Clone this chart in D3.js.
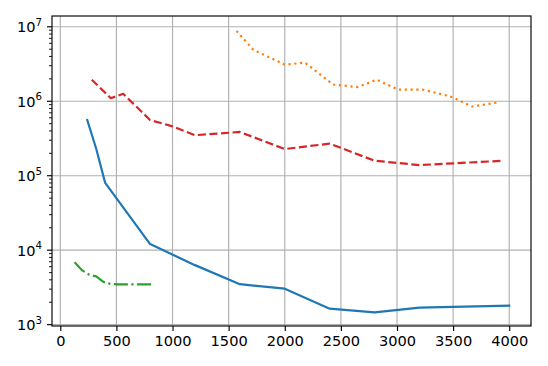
<!DOCTYPE html>
<html>
<head>
<meta charset="utf-8">
<script src="https://cdn.jsdelivr.net/npm/d3@7"></script>
<style>
  body { margin: 0; background: #fff; }
  svg { display: block; font-family: "DejaVu Sans", sans-serif; }
</style>
</head>
<body>
<svg id="chart" width="548" height="366"></svg>
<script>
'use strict';

// series
var blueX = [240, 320, 400, 800, 1200, 1600, 2000, 2400, 2800, 3200, 4000];
var blueY = [5.6e5, 2.3e5, 8.0e4, 1.21e4, 6.3e3, 3.5e3, 3.04e3, 1.64e3, 1.46e3, 1.69e3, 1.8e3];

var orangeX = [1570, 1720, 2000, 2180, 2430, 2650, 2820, 3010, 3230, 3470, 3670, 3890];
var orangeY = [8.8e6, 4.9e6, 3.1e6, 3.3e6, 1.68e6, 1.55e6, 1.95e6, 1.43e6, 1.43e6, 1.17e6, 8.5e5, 9.6e5];

var greenX = [128, 192, 256, 320, 384, 448, 512, 576, 640, 704, 768, 832];
var greenY = [6900, 5400, 4700, 4450, 3750, 3520, 3480, 3470, 3480, 3470, 3470, 3480];

var redX = [280, 450, 560, 800, 1000, 1200, 1600, 2000, 2400, 2800, 3200, 3950];
var redY = [1.95e6, 1.1e6, 1.26e6, 5.6e5, 4.6e5, 3.5e5, 3.87e5, 2.28e5, 2.7e5, 1.59e5, 1.39e5, 1.59e5];

var xTicks = [0, 500, 1000, 1500, 2000, 2500, 3000, 3500, 4000];
var yExponents = [3, 4, 5, 6, 7];

var margin = {left: 52, right: 17, top: 16, bottom: 40};
var W = 548, H = 366;
var svg = d3.select("#chart");

var x = d3.scaleLinear().domain([-74, 4194]).range([margin.left, W - margin.right]);
var y = d3.scaleLog().domain([Math.pow(10, 2.982), Math.pow(10, 7.145)]).range([H - margin.bottom, margin.top]);

var fontSize = 14.6;

// grid
var grid = svg.append("g");
grid.selectAll(".gx").data(xTicks).enter().append("line")
  .attr("x1", function(d) { return x(d); })
  .attr("x2", function(d) { return x(d); })
  .attr("y1", margin.top).attr("y2", H - margin.bottom)
  .style("stroke", "#b0b0b0").style("stroke-width", 1.15);
grid.selectAll(".gy").data(yExponents).enter().append("line")
  .attr("x1", margin.left).attr("x2", W - margin.right)
  .attr("y1", function(d) { return y(Math.pow(10, d)); })
  .attr("y2", function(d) { return y(Math.pow(10, d)); })
  .style("stroke", "#b0b0b0").style("stroke-width", 1.15);

// lines
var series = [
  {xs: blueX, ys: blueY, color: "#1f77b4", dash: null},
  {xs: orangeX, ys: orangeY, color: "#ff7f0e", dash: "2.2,3.6"},
  {xs: greenX, ys: greenY, color: "#2ca02c", dash: "14,3.5,2.2,3.5"},
  {xs: redX, ys: redY, color: "#d62728", dash: "8.1,3.5"}
];
var line = d3.line()
  .x(function(d) { return x(d[0]); })
  .y(function(d) { return y(d[1]); });

svg.append("g").selectAll("path")
  .data(series)
  .enter()
  .append("path")
  .attr("d", function(s) { return line(d3.zip(s.xs, s.ys)); })
  .style("fill", "none")
  .style("stroke", function(s) { return s.color; })
  .style("stroke-width", 2.2)
  .style("stroke-linejoin", "round")
  .style("stroke-linecap", function(s) { return s.dash ? "butt" : "square"; })
  .style("stroke-dasharray", function(s) { return s.dash; });

// x axis
var xAxis = svg.append("g")
  .attr("transform", "translate(0," + (H - margin.bottom) + ")")
  .call(d3.axisBottom(x).tickValues(xTicks).tickSize(5).tickPadding(5).tickFormat(d3.format("d")));
xAxis.select(".domain").remove();
xAxis.selectAll("line").style("stroke", "#000").style("stroke-width", 1.15);
xAxis.selectAll("text").style("font-size", fontSize + "px").style("fill", "#000")
  .style("font-family", "DejaVu Sans");

// y axis, major ticks with 10^n labels
var minors = [];
yExponents.forEach(function(e) {
  for (var k = 2; k <= 9; k++) {
    var v = k * Math.pow(10, e - 1);
    if (v >= y.domain()[0] && v <= y.domain()[1]) minors.push(v);
  }
});
for (var k = 2; k <= 9; k++) {
  var v = k * Math.pow(10, 7);
  if (v <= y.domain()[1]) minors.push(v);
}
var yAxis = svg.append("g").attr("transform", "translate(" + margin.left + ",0)");
yAxis.selectAll(".minor").data(minors).enter().append("line")
  .attr("x1", -3).attr("x2", 0)
  .attr("y1", function(d) { return y(d); })
  .attr("y2", function(d) { return y(d); })
  .style("stroke", "#000").style("stroke-width", 0.9);
yAxis.selectAll(".major").data(yExponents).enter().append("line")
  .attr("x1", -5).attr("x2", 0)
  .attr("y1", function(d) { return y(Math.pow(10, d)); })
  .attr("y2", function(d) { return y(Math.pow(10, d)); })
  .style("stroke", "#000").style("stroke-width", 1.15);
var labels = yAxis.selectAll(".lab").data(yExponents).enter().append("text")
  .attr("x", -10)
  .attr("y", function(d) { return y(Math.pow(10, d)) + 5.5; })
  .attr("text-anchor", "end")
  .style("font-size", fontSize + "px")
  .style("fill", "#000");
labels.append("tspan").text("10");
labels.append("tspan")
  .attr("dy", -6.5)
  .style("font-size", (fontSize * 0.7) + "px")
  .text(function(d) { return d; });

// frame
svg.append("rect")
  .attr("x", margin.left).attr("y", margin.top)
  .attr("width", W - margin.right - margin.left)
  .attr("height", H - margin.bottom - margin.top)
  .style("fill", "none").style("stroke", "#000").style("stroke-width", 1.15);
</script>
</body>
</html>
